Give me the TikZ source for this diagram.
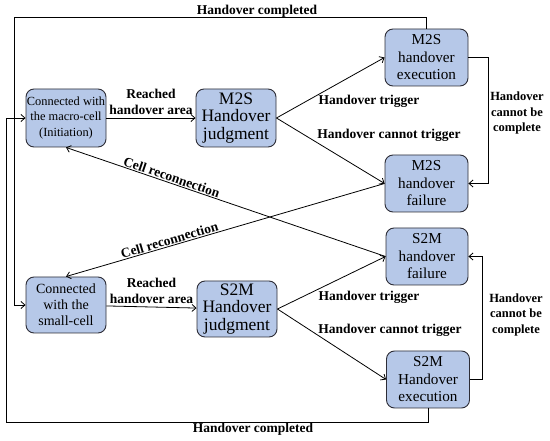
\documentclass[tikz,border=0pt]{standalone}
\usepackage{fontspec}
\setmainfont{Liberation Serif}
\usetikzlibrary{arrows.meta}
\definecolor{boxfill}{RGB}{182,200,232}
\definecolor{boxline}{RGB}{45,45,55}
\begin{document}
\begin{tikzpicture}[x=1pt,y=-1pt,
  box/.style={draw=boxline, fill=boxfill, rounded corners=8pt, line width=0.9pt,
              align=center, inner sep=0pt},
  conn/.style={line width=0.8pt, -{Straight Barb[length=4pt,width=7pt]}},
  lbl/.style={font=\bfseries\fontsize{13.5}{16.5}\selectfont, align=center, inner sep=1pt},
  sidelbl/.style={font=\bfseries\fontsize{12.5}{15.5}\selectfont, align=center, inner sep=0pt},
  big/.style={font=\fontsize{17.5}{17.5}\selectfont},
  mid/.style={font=\fontsize{15.2}{17.5}\selectfont}
]
\useasboundingbox (0,0) rectangle (550,441);

% nodes
\node[box, minimum width=80pt, minimum height=58pt, font=\fontsize{12.4}{15.5}\selectfont]
  (A) at (66,118) {Connected with\\the macro-cell\\(Initiation)};
\node[box, big, minimum width=80pt, minimum height=58pt] (J1) at (236,118) {M2S\\Handover\\judgment};
\node[box, mid, minimum width=83pt, minimum height=57pt] (E1) at (426.5,57.5) {M2S\\handover\\execution};
\node[box, mid, minimum width=83pt, minimum height=57pt] (F1) at (426.5,183.5) {M2S\\handover\\failure};

\node[box, minimum width=80pt, minimum height=56pt, font=\fontsize{14}{16}\selectfont]
  (B) at (66,305) {Connected\\with the\\small-cell};
\node[box, big, minimum width=80pt, minimum height=56pt] (J2) at (237,309) {S2M\\Handover\\judgment};
\node[box, mid, minimum width=82pt, minimum height=57pt] (F2) at (427,256.5) {S2M\\handover\\failure};
\node[box, mid, minimum width=83pt, minimum height=57pt] (E2) at (428,379.5) {S2M\\Handover\\execution};

\coordinate (tl) at (14,17);
\coordinate (bl) at (6,422);

% M2S part
\draw[conn] (A) -- node[lbl, above, inner sep=2.5pt] {Reached\\handover area} (J1);
\draw[conn] (J1.east) -- (E1.west);
\draw[conn] (J1.east) -- (F1.west);
\node[lbl] (t1) at (369,101) {Handover trigger};
\node[lbl] (c1) at (389,135) {Handover cannot trigger};
\draw[conn] (E1.east) -- ++(20,0) |- (F1.east);
\node[sidelbl] (s1) at (517,113) {Handover\\cannot be\\complete};
\draw[conn] (E1.north) |- (tl) |- (B.west);
\node[lbl, anchor=base] (hc1) at (257,15) {Handover completed};

% S2M part
\draw[conn] (B) -- node[lbl, above, inner sep=2.5pt] {Reached\\handover area} (J2);
\draw[conn] (J2.east) -- (F2.west);
\draw[conn] (J2.east) -- (E2.west);
\node[lbl] (t2) at (369,297) {Handover trigger};
\node[lbl] (c2) at (390,330) {Handover cannot trigger};
\draw[conn] (E2.east) -- ++(12,0) |- (F2.east);
\node[sidelbl] (s2) at (516,314.5) {Handover\\cannot be\\complete};
\draw[conn] (E2.south) |- (bl) |- (A.west);
\node[lbl, anchor=base] (hc2) at (253,433) {Handover completed};

% reconnections
\draw[conn] (F2.west) -- node[lbl, above, sloped, pos=0.675, inner sep=1pt] {Cell reconnection} (A.south);
\draw[conn] (F1.west) -- node[lbl, above, sloped, pos=0.67, inner sep=1pt] {Cell reconnection} (B.north);
\end{tikzpicture}
\end{document}
